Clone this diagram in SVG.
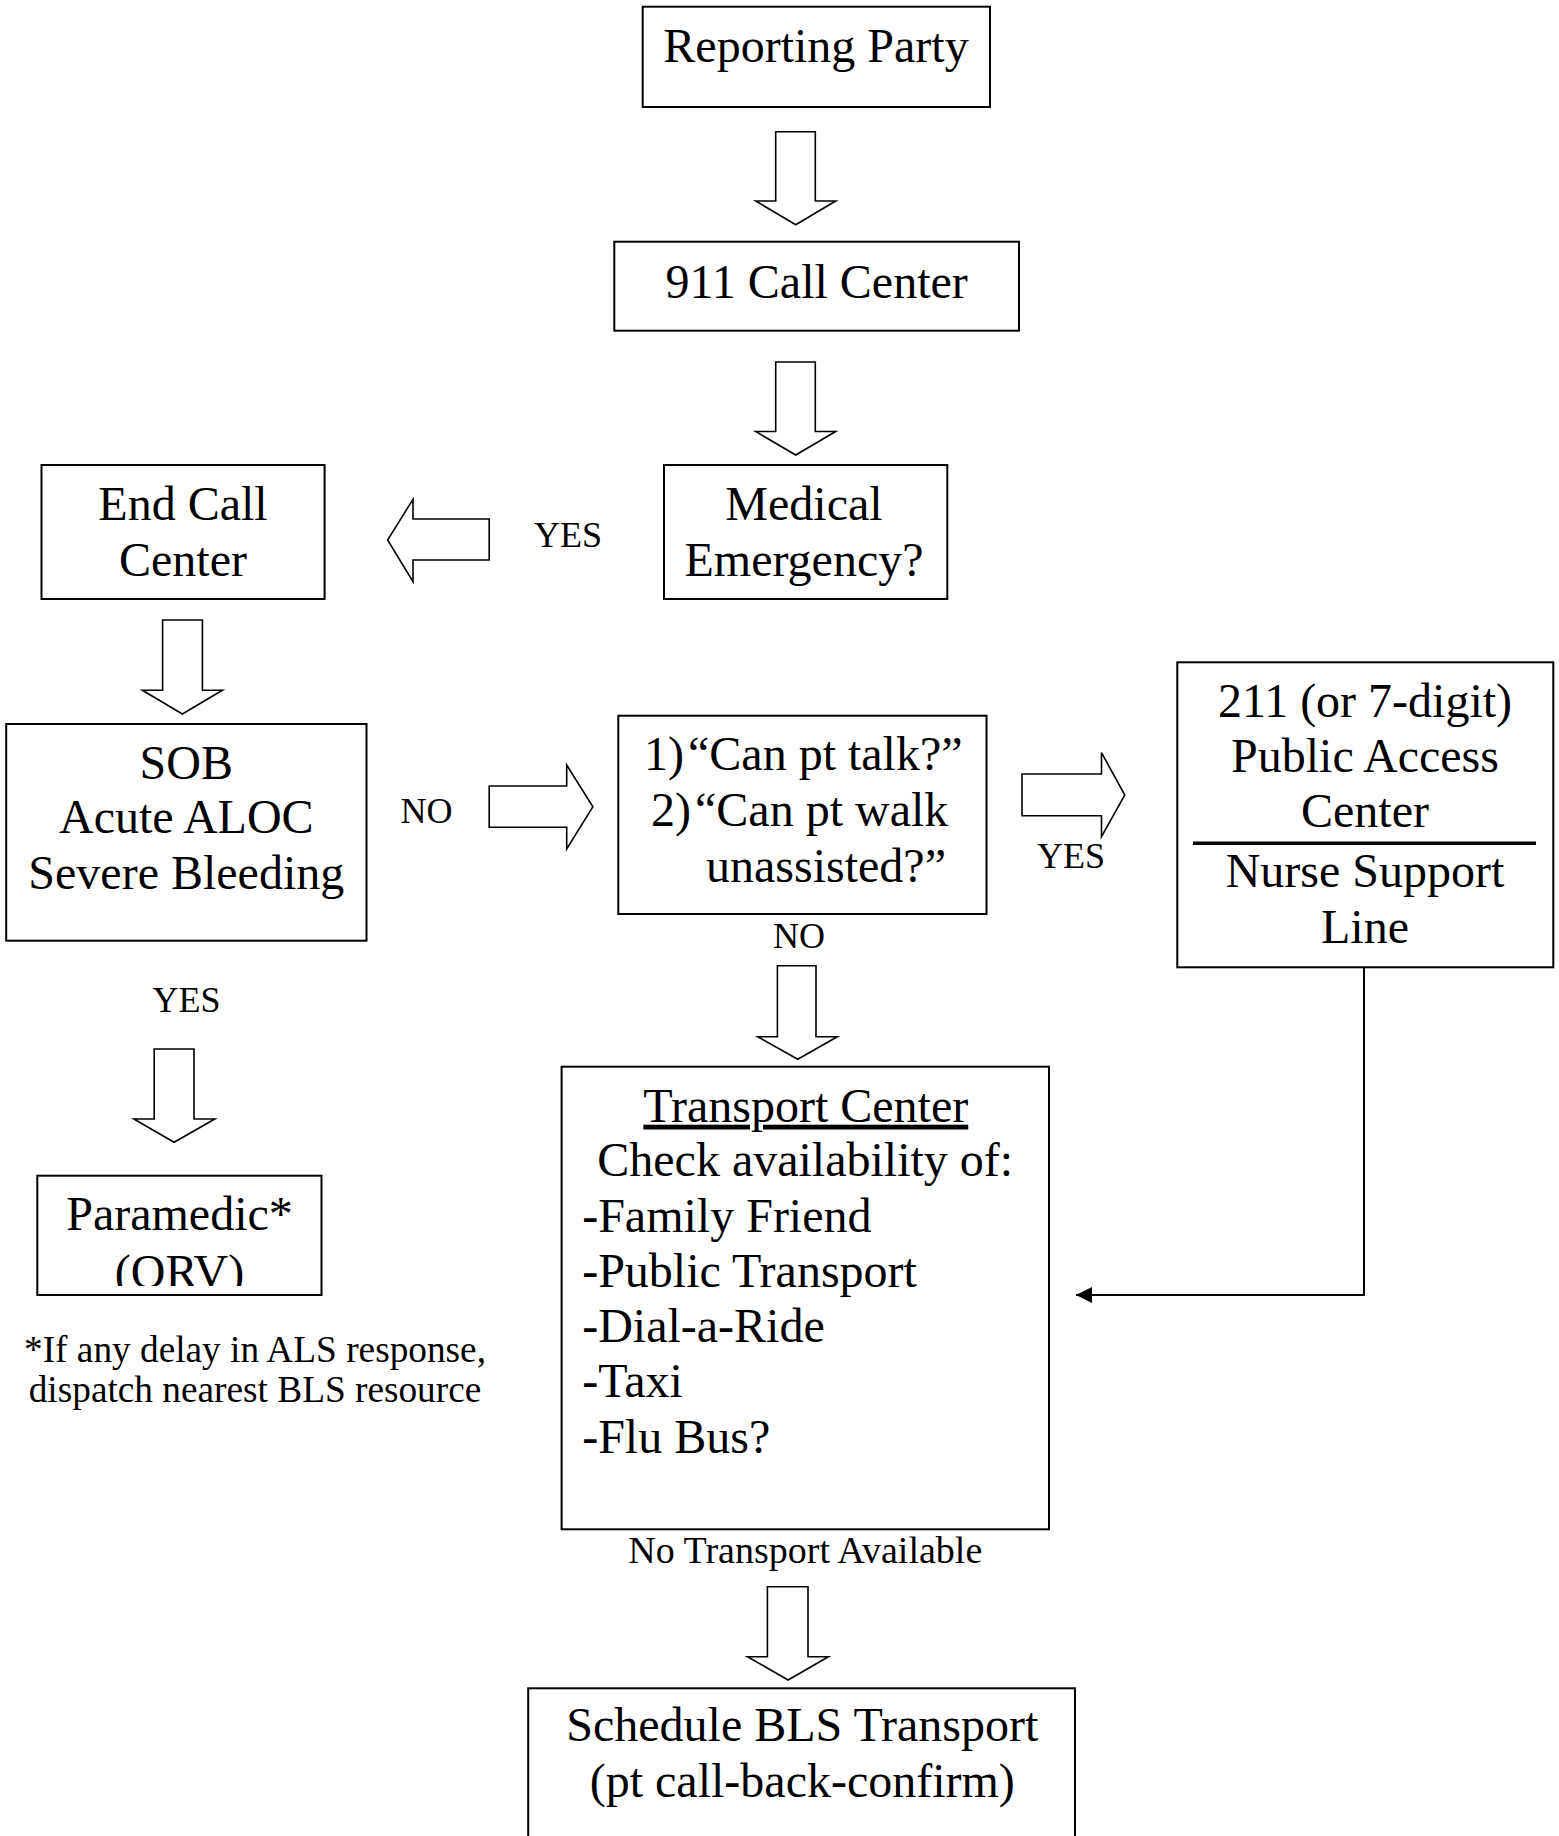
<svg xmlns="http://www.w3.org/2000/svg" width="1559" height="1836" viewBox="0 0 1559 1836">
<style>
text{font-family:"Liberation Serif","Times New Roman",serif;fill:#000}
.t{font-size:48px}
.c{text-anchor:middle}
.lb{font-size:36px}
.fn{font-size:37.3px}
.box{fill:#fff;stroke:#000;stroke-width:2}
.blk{fill:#fff;stroke:#000;stroke-width:1.6;stroke-linejoin:miter}
.con{fill:none;stroke:#000;stroke-width:2}
</style>
<defs>
<marker id="ah" viewBox="0 0 10 10" refX="10" refY="5" markerWidth="16" markerHeight="16" markerUnits="userSpaceOnUse" orient="auto">
<path d="M0,0 L10,5 L0,10 Z" fill="#000"/>
</marker>
<clipPath id="clipPar"><rect x="37" y="1176" width="285" height="110"/></clipPath>
</defs>
<rect width="1559" height="1836" fill="#fff"/>

<g id="connectors">
<polygon class="blk" points="775.7,131.7 815.3,131.7 815.3,201 835.7,201 795.7,224.7 755.7,201 775.7,201"/>
<polygon class="blk" points="775.7,362 815.3,362 815.3,431.5 835.7,431.5 795.7,455 755.7,431.5 775.7,431.5"/>
<polygon class="blk" points="489.2,519 489.2,560 413,560 413,581.7 387.6,540 413,499.3 413,519"/>
<polygon class="blk" points="162.6,620 202.4,620 202.4,690.3 222.4,690.3 182.4,714 142.4,690.3 162.6,690.3"/>
<polygon class="blk" points="489.2,786 566.7,786 566.7,765 592.9,806.7 566.7,849 566.7,827.3 489.2,827.3"/>
<polygon class="blk" points="1022,774 1101.5,774 1101.5,752.7 1124.8,795 1101.5,836.7 1101.5,815.7 1022,815.7"/>
<polygon class="blk" points="777.4,965.7 816,965.7 816,1036.7 837.3,1036.7 797.7,1059.3 757.8,1036.7 777.4,1036.7"/>
<polygon class="blk" points="154.2,1049 194,1049 194,1119 214.8,1119 174.1,1142.3 133.9,1119 154.2,1119"/>
<polygon class="blk" points="767.4,1586.7 808,1586.7 808,1656.7 828.4,1656.7 788.1,1680 747.5,1656.7 767.4,1656.7"/>
<polyline class="con" points="1364,967.3 1364,1295 1076,1295" marker-end="url(#ah)"/>
<text class="lb c" x="568" y="546.7">YES</text>
<text class="lb c" x="426.4" y="823.3">NO</text>
<text class="lb c" x="1071" y="868.3">YES</text>
<text class="lb c" x="799" y="948.3">NO</text>
<text class="lb c" x="186.5" y="1011.7">YES</text>
<text class="c" font-size="38" x="805.3" y="1563.3">No Transport Available</text>
</g>

<g id="node-reporting">
<rect class="box" x="642.7" y="6.7" width="347.3" height="100.3"/>
<text class="t c" x="816" y="61.7">Reporting Party</text>
</g>

<g id="node-911">
<rect class="box" x="614.3" y="241.7" width="404.7" height="89"/>
<text class="t c" x="816.7" y="298.3">911 Call Center</text>
</g>

<g id="node-endcall">
<rect class="box" x="41.5" y="465" width="283.1" height="134"/>
<text class="t c" x="183" y="520">End Call</text>
<text class="t c" x="183" y="576">Center</text>
</g>

<g id="node-medical">
<rect class="box" x="664" y="465" width="283.3" height="134"/>
<text class="t c" x="804" y="520">Medical</text>
<text class="t c" x="804" y="576">Emergency?</text>
</g>

<g id="node-sob">
<rect class="box" x="6.2" y="724" width="360.3" height="216.7"/>
<text class="t c" x="186.3" y="779">SOB</text>
<text class="t c" x="186.3" y="833.3">Acute ALOC</text>
<text class="t c" x="186.3" y="889.3">Severe Bleeding</text>
</g>

<g id="node-question">
<rect class="box" x="618.3" y="715.7" width="368.2" height="198.3"/>
<text class="t" y="770"><tspan x="644">1)</tspan><tspan x="688">“Can pt talk?”</tspan></text>
<text class="t" y="826"><tspan x="651">2)</tspan><tspan x="695">“Can pt walk</tspan></text>
<text class="t" x="706" y="881.7">unassisted?”</text>
</g>

<g id="node-211">
<rect class="box" x="1177.3" y="662.3" width="376" height="305"/>
<text class="t c" x="1365" y="716.7">211 (or 7-digit)</text>
<text class="t c" x="1365" y="771.7">Public Access</text>
<text class="t c" x="1365" y="826.7">Center</text>
<line x1="1193" y1="843.3" x2="1536" y2="843.3" stroke="#000" stroke-width="3.4"/>
<text class="t c" x="1365" y="887.3">Nurse Support</text>
<text class="t c" x="1365" y="942.7">Line</text>
</g>

<g id="node-paramedic">
<rect class="box" x="37.3" y="1175.7" width="284.2" height="119.3"/>
<text class="t c" x="179.5" y="1230">Paramedic*</text>
<text class="t c" x="179.5" y="1288" clip-path="url(#clipPar)">(ORV)</text>
</g>

<g id="footnote">
<text class="fn c" x="255" y="1361.7">*If any delay in ALS response,</text>
<text class="fn c" x="255" y="1401.7">dispatch nearest BLS resource</text>
</g>

<g id="node-transport">
<rect class="box" x="561.6" y="1066.7" width="487.4" height="462.6"/>
<text class="t c" x="805.8" y="1121.7" text-decoration="underline">Transport Center</text>
<text class="t c" x="805.2" y="1176">Check availability of:</text>
<text class="t" x="582.2" y="1231.7">-Family Friend</text>
<text class="t" x="582.2" y="1286.7">-Public Transport</text>
<text class="t" x="582.2" y="1341.7">-Dial-a-Ride</text>
<text class="t" x="582.2" y="1396.7">-Taxi</text>
<text class="t" x="582.2" y="1452.7">-Flu Bus?</text>
</g>

<g id="node-schedule">
<rect class="box" x="528.2" y="1688.3" width="546.8" height="200"/>
<text class="t c" x="802.3" y="1740.7">Schedule BLS Transport</text>
<text class="t c" x="802.3" y="1796.7">(pt call-back-confirm)</text>
</g>
</svg>
